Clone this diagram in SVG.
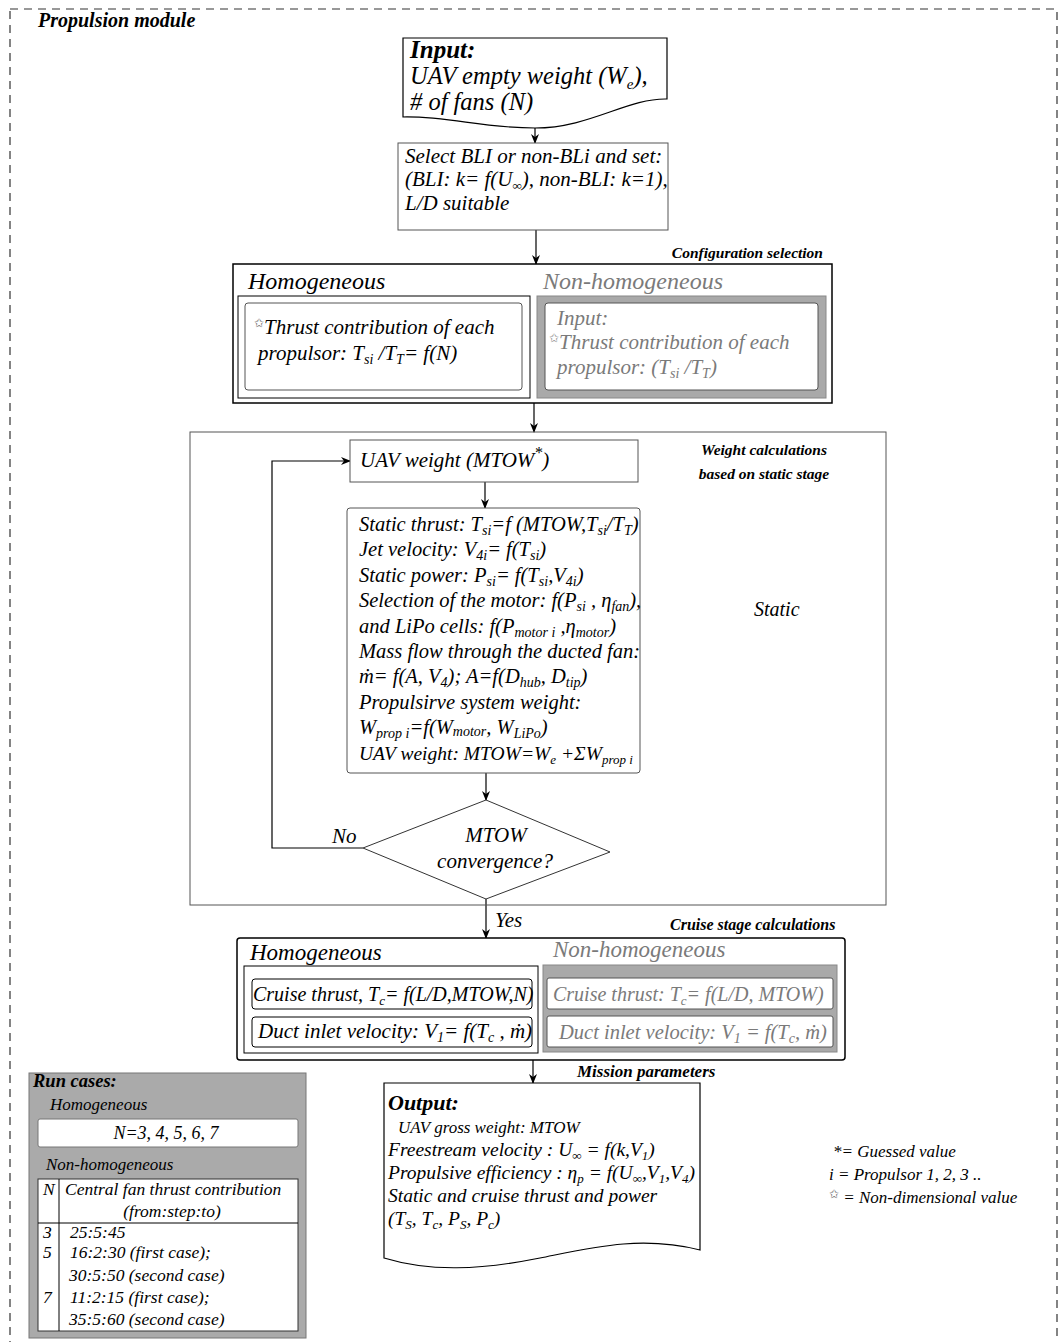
<svg xmlns="http://www.w3.org/2000/svg" width="1064" height="1342" viewBox="0 0 1064 1342">
<style>
.t{font-family:"Liberation Serif",serif;font-style:italic;fill:#000}
.b{font-weight:bold}
.g{fill:#7a7a7a}
.s{font-family:"DejaVu Sans",sans-serif;font-style:normal}
.bx{fill:#fff;stroke:#555;stroke-width:1}
.bk{fill:#fff;stroke:#000;stroke-width:1.5}
.gr{fill:#a9a9a9;stroke:#888;stroke-width:1}
.ln{fill:none;stroke:#000;stroke-width:1.2}
</style>
<defs>
<marker id="ah" markerWidth="10" markerHeight="8" refX="9" refY="4" orient="auto" markerUnits="userSpaceOnUse">
<path d="M0,0 L10,4 L0,8 L3,4 z" fill="#000"/>
</marker>
</defs>
<rect x="10" y="9" width="1047" height="1345" fill="none" stroke="#333" stroke-width="1.2" stroke-dasharray="8,6"/>
<text class="t b" x="38" y="27" font-size="20">Propulsion module</text>

<g id="connectors">
<line class="ln" x1="535" y1="128" x2="535" y2="143" marker-end="url(#ah)"/>
<line class="ln" x1="536" y1="230" x2="536" y2="264" marker-end="url(#ah)"/>
<line class="ln" x1="534" y1="403" x2="534" y2="432" marker-end="url(#ah)"/>
<line class="ln" x1="485" y1="482" x2="485" y2="508" marker-end="url(#ah)"/>
<line class="ln" x1="486" y1="773" x2="486" y2="800" marker-end="url(#ah)"/>
<polyline class="ln" points="363,848 272,848 272,461 350,461" marker-end="url(#ah)"/>
<line class="ln" x1="486" y1="899" x2="486" y2="938" marker-end="url(#ah)"/>
<line class="ln" x1="533" y1="1060" x2="533" y2="1083" marker-end="url(#ah)"/>
<text class="t" x="332" y="843" font-size="21">No</text>
<text class="t" x="495" y="927" font-size="21">Yes</text>
</g>

<g id="input">
<path d="M403,38 H667 V99 C627,98 590,128 535,128 C480,128 450,116 403,117 Z" fill="#fff" stroke="#000" stroke-width="1.2"/>
<text class="t b" x="410" y="58" font-size="25">Input:</text>
<text class="t" x="410" y="84" font-size="24.5">UAV empty weight (W<tspan font-size="15" dy="5">e</tspan><tspan dy="-5">),</tspan></text>
<text class="t" x="410" y="110" font-size="24.5"># of fans (N)</text>
</g>

<g id="select">
<rect class="bx" x="398" y="143" width="270" height="87"/>
<text class="t" x="405" y="163" font-size="21">Select BLI or non-BLi and set:</text>
<text class="t" x="405" y="186" font-size="21">(BLI: k= f(U<tspan font-size="13" dy="4">∞</tspan><tspan dy="-4">), non-BLI: k=1),</tspan></text>
<text class="t" x="405" y="210" font-size="21">L/D suitable</text>
</g>

<g id="config">
<text class="t b" x="823" y="258" font-size="15.5" text-anchor="end">Configuration selection</text>
<rect class="bk" x="233" y="264" width="599" height="139"/>
<text class="t" x="248" y="289" font-size="24">Homogeneous</text>
<rect x="238" y="296" width="292" height="102" fill="#fff" stroke="#000" stroke-width="1"/>
<rect class="bx" x="245" y="303" width="277" height="87" rx="3"/>
<text class="t" x="254" y="334" font-size="21"><tspan class="s" font-size="12" dy="-7" fill="#666">✩</tspan><tspan dy="7">Thrust contribution of each</tspan></text>
<text class="t" x="258" y="360" font-size="21">propulsor: T<tspan font-size="14" dy="4">si</tspan><tspan dy="-4"> /T</tspan><tspan font-size="14" dy="4">T</tspan><tspan dy="-4">= f(N)</tspan></text>
<text class="t g" x="543" y="289" font-size="24">Non-homogeneous</text>
<rect class="gr" x="537" y="296" width="289" height="102"/>
<rect class="bx" x="545" y="303" width="273" height="87" rx="3"/>
<text class="t g" x="557" y="325" font-size="21">Input:</text>
<text class="t g" x="549" y="349" font-size="21"><tspan class="s" font-size="12" dy="-7" fill="#888">✩</tspan><tspan dy="7">Thrust contribution of each</tspan></text>
<text class="t g" x="557" y="374" font-size="21">propulsor: (T<tspan font-size="14" dy="4">si</tspan><tspan dy="-4"> /T</tspan><tspan font-size="14" dy="4">T</tspan><tspan dy="-4">)</tspan></text>
</g>

<g id="weight">
<rect x="190" y="432" width="696" height="473" fill="none" stroke="#555" stroke-width="1"/>
<text class="t b" x="764" y="455" font-size="15.5" text-anchor="middle">Weight calculations</text>
<text class="t b" x="764" y="479" font-size="15.5" text-anchor="middle">based on static stage</text>
<text class="t" x="754" y="616" font-size="20">Static</text>
</g>

<g id="uavweight">
<rect class="bx" x="350" y="440" width="288" height="42"/>
<text class="t" x="360" y="467" font-size="21">UAV weight (MTOW<tspan font-size="16" dy="-9">*</tspan><tspan dy="9">)</tspan></text>
</g>

<g id="static">
<rect class="bx" x="347" y="508" width="293" height="265" rx="3"/>
<g class="t" font-size="20.5">
<text x="359" y="531">Static thrust: T<tspan font-size="14" dy="4">si</tspan><tspan dy="-4">=f (MTOW,T</tspan><tspan font-size="14" dy="4">si</tspan><tspan dy="-4">/T</tspan><tspan font-size="14" dy="4">T</tspan><tspan dy="-4">)</tspan></text>
<text x="359" y="556">Jet velocity: V<tspan font-size="14" dy="4">4i</tspan><tspan dy="-4">= f(T</tspan><tspan font-size="14" dy="4">si</tspan><tspan dy="-4">)</tspan></text>
<text x="359" y="582">Static power:  P<tspan font-size="14" dy="4">si</tspan><tspan dy="-4">= f(T</tspan><tspan font-size="14" dy="4">si</tspan><tspan dy="-4">,V</tspan><tspan font-size="14" dy="4">4i</tspan><tspan dy="-4">)</tspan></text>
<text x="359" y="607">Selection of the motor: f(P<tspan font-size="14" dy="4">si</tspan><tspan dy="-4"> , η</tspan><tspan font-size="14" dy="4">fan</tspan><tspan dy="-4">),</tspan></text>
<text x="359" y="633">and LiPo cells:  f(P<tspan font-size="14" dy="4">motor i</tspan><tspan dy="-4"> ,η</tspan><tspan font-size="14" dy="4">motor</tspan><tspan dy="-4">)</tspan></text>
<text x="359" y="658">Mass flow through the ducted fan:</text>
<text x="359" y="683">ṁ= f(A, V<tspan font-size="14" dy="4">4</tspan><tspan dy="-4">); A=f(D</tspan><tspan font-size="14" dy="4">hub</tspan><tspan dy="-4">, D</tspan><tspan font-size="14" dy="4">tip</tspan><tspan dy="-4">)</tspan></text>
<text x="359" y="709">Propulsirve system weight:</text>
<text x="359" y="734">W<tspan font-size="14" dy="4">prop i</tspan><tspan dy="-4">=f(W</tspan><tspan font-size="14" dy="2">motor</tspan><tspan dy="-2">, W</tspan><tspan font-size="14" dy="4">LiPo</tspan><tspan dy="-4">)</tspan></text>
<text x="359" y="760" font-size="19.5">UAV weight: MTOW=W<tspan font-size="13" dy="4">e</tspan><tspan dy="-4"> +ΣW</tspan><tspan font-size="13" dy="4">prop i</tspan></text>
</g>
</g>

<g id="decision">
<polygon points="486,800 610,852 486,899 363,848" fill="#fff" stroke="#333" stroke-width="1"/>
<text class="t" x="496" y="842" font-size="21" text-anchor="middle">MTOW</text>
<text class="t" x="495" y="868" font-size="21" text-anchor="middle">convergence?</text>
</g>

<g id="cruise">
<text class="t b" x="670" y="930" font-size="16">Cruise stage calculations</text>
<rect class="bk" x="237" y="938" width="608" height="122" rx="3"/>
<text class="t" x="250" y="960" font-size="23">Homogeneous</text>
<rect x="244" y="966" width="294" height="87" fill="#fff" stroke="#000" stroke-width="1"/>
<rect x="252" y="979" width="280" height="30" rx="3" fill="#fff" stroke="#000" stroke-width="1"/>
<text class="t" x="253" y="1001" font-size="20">Cruise thrust, T<tspan font-size="13" dy="4">c</tspan><tspan dy="-4">= f(L/D,MTOW,N)</tspan></text>
<rect x="252" y="1017" width="280" height="30" rx="3" fill="#fff" stroke="#000" stroke-width="1"/>
<text class="t" x="258" y="1038" font-size="21">Duct inlet velocity: V<tspan font-size="14" dy="4">1</tspan><tspan dy="-4">= f(T</tspan><tspan font-size="14" dy="4">c</tspan><tspan dy="-4"> , ṁ)</tspan></text>
<text class="t g" x="553" y="957" font-size="23">Non-homogeneous</text>
<rect class="gr" x="543" y="965" width="294" height="87"/>
<rect class="bx" x="547" y="978" width="286" height="31" rx="2"/>
<text class="t g" x="553" y="1001" font-size="20">Cruise thrust: T<tspan font-size="13" dy="4">c</tspan><tspan dy="-4">= f(L/D, MTOW)</tspan></text>
<rect class="bx" x="547" y="1016" width="286" height="31" rx="2"/>
<text class="t g" x="559" y="1039" font-size="20.5">Duct inlet velocity: V<tspan font-size="14" dy="4">1</tspan><tspan dy="-4"> = f(T</tspan><tspan font-size="14" dy="4">c</tspan><tspan dy="-4">, ṁ)</tspan></text>
</g>

<g id="output">
<text class="t b" x="577" y="1077" font-size="17">Mission parameters</text>
<path d="M384,1083 H700 V1250 C640,1235 590,1248 540,1258 C480,1270 430,1272 384,1258 Z" fill="#fff" stroke="#000" stroke-width="1.2"/>
<text class="t b" x="388" y="1110" font-size="22">Output:</text>
<text class="t" x="398" y="1133" font-size="17">UAV gross weight: MTOW</text>
<text class="t" x="388" y="1156" font-size="19.5">Freestream velocity : U<tspan font-size="13" dy="4">∞</tspan><tspan dy="-4"> = f(k,V</tspan><tspan font-size="13" dy="4">1</tspan><tspan dy="-4">)</tspan></text>
<text class="t" x="388" y="1179" font-size="19.5">Propulsive efficiency : η<tspan font-size="13" dy="4">p</tspan><tspan dy="-4"> = f(U</tspan><tspan font-size="13" dy="4">∞</tspan><tspan dy="-4">,V</tspan><tspan font-size="13" dy="4">1</tspan><tspan dy="-4">,V</tspan><tspan font-size="13" dy="4">4</tspan><tspan dy="-4">)</tspan></text>
<text class="t" x="388" y="1202" font-size="19.5">Static and cruise thrust and power</text>
<text class="t" x="388" y="1225" font-size="19.5">(T<tspan font-size="13" dy="4">S</tspan><tspan dy="-4">, T</tspan><tspan font-size="13" dy="4">c</tspan><tspan dy="-4">, P</tspan><tspan font-size="13" dy="4">S</tspan><tspan dy="-4">, P</tspan><tspan font-size="13" dy="4">c</tspan><tspan dy="-4">)</tspan></text>
</g>

<g id="legend">
<text class="t" x="833" y="1157" font-size="17">*= Guessed value</text>
<text class="t" x="829" y="1180" font-size="17">i = Propulsor 1, 2, 3 ..</text>
<text class="t" x="829" y="1203" font-size="17"><tspan class="s" font-size="12" dy="-5" fill="#666">✩</tspan><tspan dy="5"> = Non-dimensional value</tspan></text>
</g>

<g id="runcases">
<rect x="29" y="1073" width="277" height="265" fill="#aaa" stroke="#777" stroke-width="1"/>
<text class="t b" x="33" y="1087" font-size="18.5">Run cases:</text>
<text class="t" x="50" y="1110" font-size="17" fill="#333">Homogeneous</text>
<rect x="38" y="1119" width="260" height="28" rx="2" fill="#fff" stroke="#777" stroke-width="1"/>
<text class="t" x="166" y="1139" font-size="18" text-anchor="middle">N=3, 4, 5, 6, 7</text>
<text class="t" x="46" y="1170" font-size="17" fill="#333">Non-homogeneous</text>
<rect x="38" y="1179" width="260" height="152" fill="#fff" stroke="#333" stroke-width="1"/>
<line x1="59" y1="1179" x2="59" y2="1331" stroke="#000" stroke-width="1"/>
<line x1="38" y1="1223" x2="298" y2="1223" stroke="#000" stroke-width="1"/>
<g class="t" font-size="17.5">
<text x="43" y="1195">N</text>
<text x="65" y="1195">Central fan thrust contribution</text>
<text x="172" y="1217" text-anchor="middle">(from:step:to)</text>
<text x="43" y="1238">3</text><text x="70" y="1238">25:5:45</text>
<text x="43" y="1258">5</text><text x="70" y="1258">16:2:30 (first case);</text>
<text x="69" y="1281">30:5:50 (second case)</text>
<text x="43" y="1303">7</text><text x="70" y="1303">11:2:15 (first case);</text>
<text x="69" y="1325">35:5:60 (second case)</text>
</g>
</g>
</svg>
